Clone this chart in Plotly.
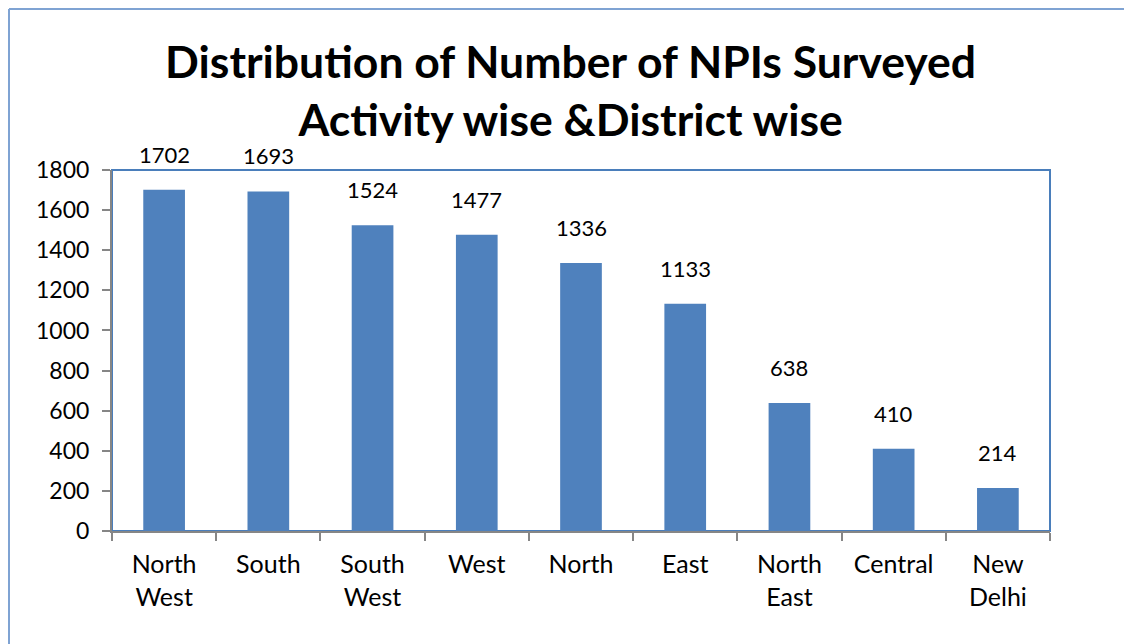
import plotly.graph_objects as go

districts = ["North<br>West", "South", "South<br>West", "West", "North", "East", "North<br>East", "Central", "New<br>Delhi"]
npis = [1702, 1693, 1524, 1477, 1336, 1133, 638, 410, 214]
y_ticks = [0, 200, 400, 600, 800, 1000, 1200, 1400, 1600, 1800]

W, H = 1132, 644
L, R, T, B = 104, 90, 162, 121
FONT = "Lato"

fig = go.Figure(go.Bar(
    x=districts, y=npis, marker=dict(color="#4F81BD", line=dict(width=0)),
))

for d, v in zip(districts, npis):
    fig.add_annotation(x=d, y=v, text=str(v), showarrow=False, yanchor="bottom",
                       yshift=20, font=dict(family=FONT, size=22, color="#000000"))

pw, ph = W - L - R, H - T - B
def px(x):
    return (x - L) / pw
def py(y):
    return (H - B - y) / ph

# outer chart border
fig.add_shape(type="line", xref="paper", yref="paper", x0=px(1), x1=px(1), y0=py(1), y1=py(H + 5),
              line=dict(color="#7FA3D3", width=2), layer="below")
fig.add_shape(type="line", xref="paper", yref="paper", x0=px(1), x1=px(W + 5), y0=py(1), y1=py(1),
              line=dict(color="#7FA3D3", width=2), layer="below")
# plot area border
fig.add_shape(type="rect", xref="paper", yref="paper", x0=0, x1=1, y0=0, y1=1,
              line=dict(color="#4A7EBB", width=2), layer="below")

fig.update_layout(
    width=W, height=H, autosize=False,
    margin=dict(l=L, r=R, t=T, b=B, pad=0, autoexpand=False),
    paper_bgcolor="white", plot_bgcolor="white",
    bargap=0.6,
    showlegend=False,
    title=dict(text="<b>Distribution of Number of NPIs Surveyed<br>Activity wise &District wise</b>",
               x=0.497, xanchor="center", y=1 - 70 / H, yanchor="middle",
               font=dict(family=FONT, size=44.5, color="#000000")),
    font=dict(family=FONT, size=22, color="#000000"),
)
fig.update_yaxes(range=[0, 1800], tickvals=y_ticks, showgrid=False, zeroline=False,
                 showline=True, linecolor="#868686", linewidth=2, automargin=False,
                 ticks="outside", ticklen=8, tickcolor="#868686", tickwidth=2,
                 ticklabelstandoff=8, tickfont=dict(family=FONT, size=23))
fig.update_xaxes(showgrid=False, showline=True, linecolor="#868686", linewidth=2, automargin=False,
                 ticks="outside", ticklen=8, tickcolor="#868686", tickwidth=2,
                 tickson="boundaries", ticklabelstandoff=10, tickfont=dict(family=FONT, size=25))

fig.write_html("out.html")
